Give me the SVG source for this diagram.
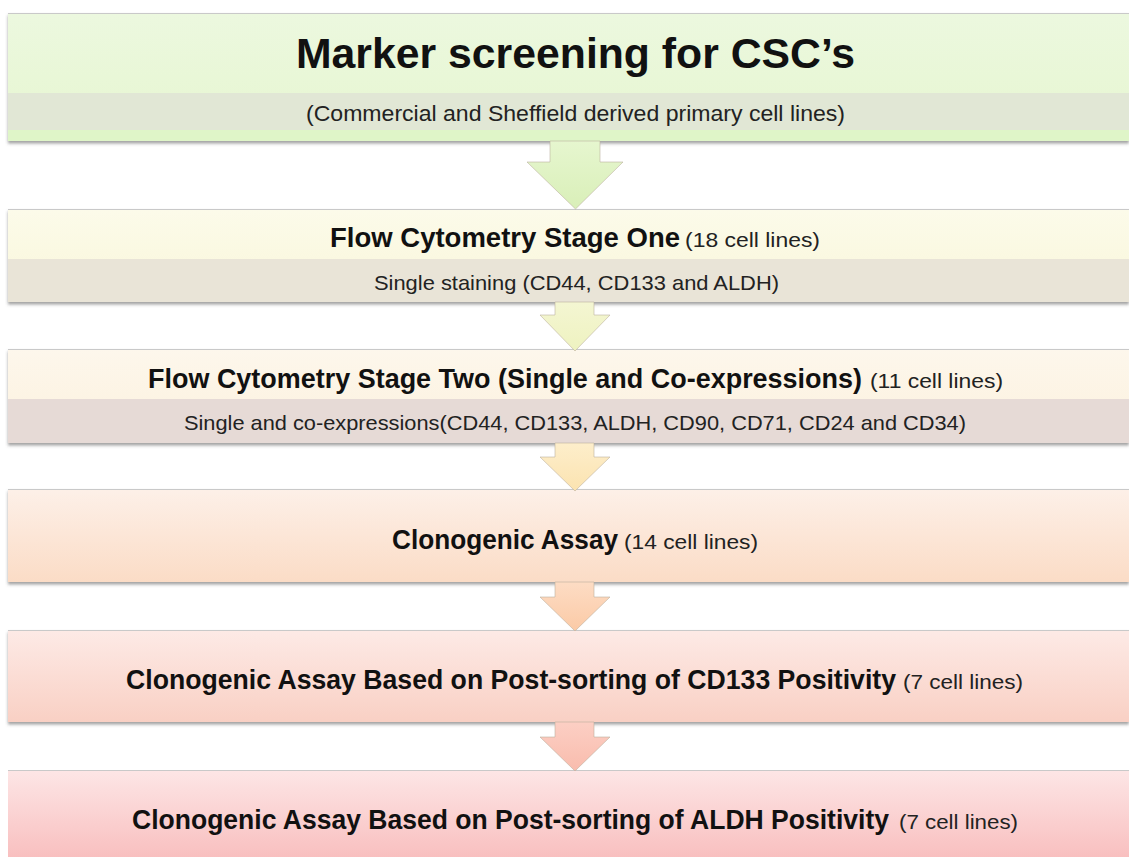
<svg xmlns="http://www.w3.org/2000/svg" width="1129" height="857" viewBox="0 0 1129 857">
<defs>
<style>
.hd{font-family:"Liberation Sans",Arial,sans-serif;font-weight:bold;fill:#111;}
.rg{font-family:"Liberation Sans",Arial,sans-serif;fill:#222;}
.edge{stroke:#c9c9c9;stroke-width:1;}
.arr{stroke:#b9ad9a;stroke-width:0.8;stroke-opacity:0.7;}
</style>
<filter id="sh" x="-5%" y="-20%" width="110%" height="150%">
<feDropShadow dx="0" dy="2.5" stdDeviation="1.6" flood-color="#555" flood-opacity="0.55"/>
</filter>
<linearGradient id="g1" x1="0" y1="0" x2="0" y2="1"><stop offset="0" stop-color="#ecf8df"/><stop offset="1" stop-color="#e6f6d0"/></linearGradient>
<linearGradient id="g2" x1="0" y1="0" x2="0" y2="1"><stop offset="0" stop-color="#fcfbea"/><stop offset="1" stop-color="#f9f6d9"/></linearGradient>
<linearGradient id="g3" x1="0" y1="0" x2="0" y2="1"><stop offset="0" stop-color="#fdf7ec"/><stop offset="1" stop-color="#fcf1dd"/></linearGradient>
<linearGradient id="g4" x1="0" y1="0" x2="0" y2="1"><stop offset="0" stop-color="#fdf0e8"/><stop offset="1" stop-color="#fbdcc6"/></linearGradient>
<linearGradient id="g5" x1="0" y1="0" x2="0" y2="1"><stop offset="0" stop-color="#fdeae6"/><stop offset="1" stop-color="#f9d0c4"/></linearGradient>
<linearGradient id="g6" x1="0" y1="0" x2="0" y2="1"><stop offset="0" stop-color="#fde6e6"/><stop offset="1" stop-color="#f8bcbc"/></linearGradient>
<linearGradient id="a1" x1="0" y1="0" x2="0" y2="1"><stop offset="0" stop-color="#e6f6cf"/><stop offset="1" stop-color="#d9efb8"/></linearGradient>
<linearGradient id="a2" x1="0" y1="0" x2="0" y2="1"><stop offset="0" stop-color="#f4f6d2"/><stop offset="1" stop-color="#eef2c0"/></linearGradient>
<linearGradient id="a3" x1="0" y1="0" x2="0" y2="1"><stop offset="0" stop-color="#fdeecb"/><stop offset="1" stop-color="#fbe3b0"/></linearGradient>
<linearGradient id="a4" x1="0" y1="0" x2="0" y2="1"><stop offset="0" stop-color="#fddcc4"/><stop offset="1" stop-color="#fbcaa6"/></linearGradient>
<linearGradient id="a5" x1="0" y1="0" x2="0" y2="1"><stop offset="0" stop-color="#fccfc4"/><stop offset="1" stop-color="#f9bcad"/></linearGradient>
</defs>
<rect x="0" y="0" width="1129" height="857" fill="#ffffff"/>

<g id="box1">
<rect x="8" y="13" width="1121" height="128" fill="url(#g1)" filter="url(#sh)"/>
<rect x="8" y="93" width="1121" height="37" fill="#e1e7d5"/>
<rect x="8" y="130" width="1121" height="11" fill="#dff5c8"/>
<line class="edge" x1="8" y1="13.5" x2="1129" y2="13.5"/>
<text class="hd" x="296" y="68" font-size="43" textLength="559" lengthAdjust="spacingAndGlyphs">Marker screening for CSC’s</text>
<text class="rg" x="306" y="121" font-size="22" textLength="539" lengthAdjust="spacingAndGlyphs">(Commercial and Sheffield derived primary cell lines)</text>
</g>

<g id="box2">
<rect x="8" y="209" width="1121" height="93" fill="url(#g2)" filter="url(#sh)"/>
<rect x="8" y="259" width="1121" height="43" fill="#e9e4d7"/>
<line class="edge" x1="8" y1="209.5" x2="1129" y2="209.5"/>
<text class="hd" x="330" y="247" font-size="27" textLength="350" lengthAdjust="spacingAndGlyphs">Flow Cytometry Stage One</text>
<text class="rg" x="685" y="247" font-size="21" textLength="135" lengthAdjust="spacingAndGlyphs">(18 cell lines)</text>
<text class="rg" x="374" y="290" font-size="21" textLength="405" lengthAdjust="spacingAndGlyphs">Single staining (CD44, CD133 and ALDH)</text>
</g>

<g id="box3">
<rect x="8" y="349" width="1121" height="94" fill="url(#g3)" filter="url(#sh)"/>
<rect x="8" y="399" width="1121" height="44" fill="#e6dad6"/>
<line class="edge" x1="8" y1="349.5" x2="1129" y2="349.5"/>
<text class="hd" x="148" y="388" font-size="27" textLength="714" lengthAdjust="spacingAndGlyphs">Flow Cytometry Stage Two (Single and Co-expressions)</text>
<text class="rg" x="870" y="388" font-size="21" textLength="133" lengthAdjust="spacingAndGlyphs">(11 cell lines)</text>
<text class="rg" x="184" y="430" font-size="21" textLength="782" lengthAdjust="spacingAndGlyphs">Single and co-expressions(CD44, CD133, ALDH, CD90, CD71, CD24 and CD34)</text>
</g>

<g id="box4">
<rect x="8" y="489" width="1121" height="93" fill="url(#g4)" filter="url(#sh)"/>
<line class="edge" x1="8" y1="489.5" x2="1129" y2="489.5"/>
<text class="hd" x="392" y="549" font-size="27" textLength="226" lengthAdjust="spacingAndGlyphs">Clonogenic Assay</text>
<text class="rg" x="624" y="549" font-size="21" textLength="134" lengthAdjust="spacingAndGlyphs">(14 cell lines)</text>
</g>

<g id="box5">
<rect x="8" y="630" width="1121" height="92" fill="url(#g5)" filter="url(#sh)"/>
<line class="edge" x1="8" y1="630.5" x2="1129" y2="630.5"/>
<text class="hd" x="126" y="689" font-size="27" textLength="770" lengthAdjust="spacingAndGlyphs">Clonogenic Assay Based on Post-sorting of CD133 Positivity</text>
<text class="rg" x="903" y="689" font-size="21" textLength="120" lengthAdjust="spacingAndGlyphs">(7 cell lines)</text>
</g>

<g id="box6">
<rect x="8" y="770" width="1121" height="95" fill="url(#g6)"/>
<line class="edge" x1="8" y1="770.5" x2="1129" y2="770.5"/>
<text class="hd" x="132" y="829" font-size="27" textLength="757" lengthAdjust="spacingAndGlyphs">Clonogenic Assay Based on Post-sorting of ALDH Positivity</text>
<text class="rg" x="899" y="829" font-size="21" textLength="119" lengthAdjust="spacingAndGlyphs">(7 cell lines)</text>
</g>

<g id="connectors">
<path class="arr" fill="url(#a1)" d="M550 141 L600 141 L600 162 L623 162 L575.5 209 L527 162 L550 162 Z"/>
<path class="arr" fill="url(#a2)" d="M555 302 L594 302 L594 315 L610 315 L575 351 L540 315 L555 315 Z"/>
<path class="arr" fill="url(#a3)" d="M555 443 L594 443 L594 457 L610 457 L575 491 L540 457 L555 457 Z"/>
<path class="arr" fill="url(#a4)" d="M555 582 L594 582 L594 597 L610 597 L575 631 L540 597 L555 597 Z"/>
<path class="arr" fill="url(#a5)" d="M555 722 L594 722 L594 737 L610 737 L575 771 L540 737 L555 737 Z"/>
</g>
</svg>
